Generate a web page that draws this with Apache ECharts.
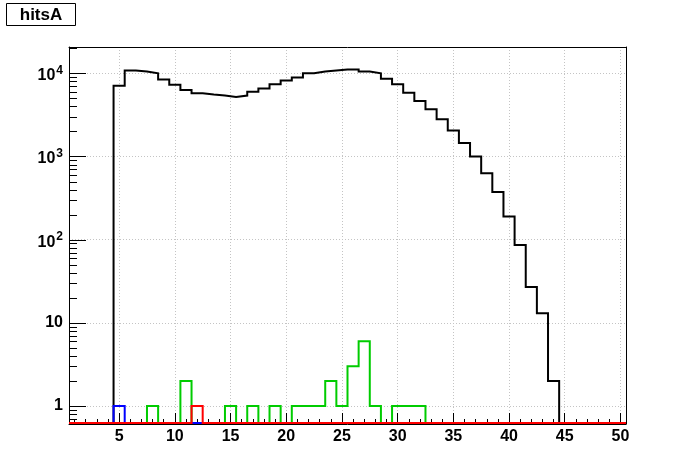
<!DOCTYPE html>
<html>
<head>
<meta charset="utf-8">
<script src="https://cdn.jsdelivr.net/npm/echarts@6/dist/echarts.min.js"></script>
<style>
html,body{margin:0;padding:0;background:#fff;}
#c{width:696px;height:472px;}
</style>
</head>
<body>
<div id="c"></div>
<script>
// ---- data (bin centers 1..50, bin width 1) ----
var binCenters = [1,2,3,4,5,6,7,8,9,10,11,12,13,14,15,16,17,18,19,20,21,22,23,24,25,26,27,28,29,30,31,32,33,34,35,36,37,38,39,40,41,42,43,44,45,46,47,48,49,50];
var blackCounts = [0,0,0,0,7100,10800,10500,10000,8400,7300,6300,5750,5550,5400,5200,5400,6000,6550,7400,8200,8900,10000,10500,10800,11100,11100,10500,10000,8600,7400,5850,4650,3700,2800,2050,1450,1000,630,375,190,86,27,13,2,0,0,0,0,0,0];
var greenCounts = [0,0,0,0,0,0,0,1,0,0,2,0,0,0,1,0,1,0,1,0,1,1,1,2,1,3,6,1,0,1,1,1,0,0,0,0,0,0,0,0,0,0,0,0,0,0,0,0,0,0];
var blueCounts  = [0,0,0,0,1,0,0,0,0,0,0,0,0,0,0,0,0,0,0,0,0,0,0,0,0,0,0,0,0,0,0,0,0,0,0,0,0,0,0,0,0,0,0,0,0,0,0,0,0,0];
var redCounts   = [0,0,0,0,0,0,0,0,0,0,0,1,0,0,0,0,0,0,0,0,0,0,0,0,0,0,0,0,0,0,0,0,0,0,0,0,0,0,0,0,0,0,0,0,0,0,0,0,0,0];
var xTickLabels = [5,10,15,20,25,30,35,40,45,50];
var yDecades = [0,1,2,3,4];
var titleText = 'hitsA';

// ---- axis ranges ----
var X_MIN = 0.5, X_MAX = 50.5, BIN_W = 1;
var Y_LOG_MIN = -0.2164, Y_LOG_MAX = 4.3164;
var ZERO_LOG = Y_LOG_MIN + 0.012; // empty bins drawn at the frame bottom

function toLog(v){ return v > 0 ? Math.log10(v) : ZERO_LOG; }
function histPoints(counts){
  var pts = [];
  for (var i = 0; i < counts.length; i++){
    var y = toLog(counts[i]);
    pts.push([binCenters[i] - BIN_W/2, y]);
    pts.push([binCenters[i] + BIN_W/2, y]);
  }
  return pts;
}
// log ticks: majors at 10^n, minors at k x 10^n (k = 2..9)
var yTickMarks = [];
for (var d = -1; d < 5; d++){
  for (var k = 1; k <= 9; k++){
    var lv = d + Math.log10(k);
    if (lv > Y_LOG_MIN && lv < Y_LOG_MAX) yTickMarks.push({v: lv, len: k === 1 ? 17 : 8});
  }
}

var FONT = '"Liberation Sans", Arial, Helvetica, sans-serif';
var chart = echarts.init(document.getElementById('c'), null, {renderer:'canvas'});
function hist(name, counts, color){
  return {
    name: name, type: 'line', data: histPoints(counts),
    xAxisIndex: 0, yAxisIndex: 0,
    symbol: 'none', showSymbol: false, animation: false, clip: false,
    lineStyle: {color: color, width: 2, join: 'miter', cap: 'butt'},
    emphasis: {disabled: true}
  };
}
var gridLine = {show: true, lineStyle: {color: '#c4c4c4', width: 1, type: [1, 2]}};
chart.setOption({
  animation: false,
  backgroundColor: '#ffffff',
  grid: {left: 69, top: 47, width: 557, height: 377, containLabel: false},
  xAxis: [{
    type: 'value', min: X_MIN, max: X_MAX, splitNumber: 10, minInterval: 5, maxInterval: 5,
    position: 'bottom',
    axisLine: {show: true, onZero: false, lineStyle: {color: '#000', width: 1}},
    axisTick: {show: true, inside: true, length: 11, lineStyle: {color: '#000', width: 1}},
    minorTick: {show: true, splitNumber: 5, length: 5, lineStyle: {color: '#000', width: 1}},
    axisLabel: {
      margin: 5, color: '#000', fontSize: 16, fontWeight: 'bold', fontFamily: FONT,
      showMinLabel: true, showMaxLabel: true,
      formatter: function(v){ return xTickLabels.indexOf(Math.round(v*1000)/1000) >= 0 ? String(v) : ''; }
    },
    splitLine: gridLine
  }, {
    type: 'value', min: X_MIN, max: X_MAX, position: 'top',
    axisLine: {show: true, onZero: false, lineStyle: {color: '#000', width: 1}},
    axisTick: {show: false}, axisLabel: {show: false}, splitLine: {show: false}
  }],
  yAxis: [{
    type: 'value', min: Y_LOG_MIN, max: Y_LOG_MAX, splitNumber: 5, minInterval: 1, maxInterval: 1,
    position: 'left',
    axisLine: {show: true, onZero: false, lineStyle: {color: '#000', width: 1}},
    axisTick: {show: false},
    axisLabel: {
      margin: 6, color: '#000', fontSize: 16, fontWeight: 'bold', fontFamily: FONT,
      showMinLabel: true, showMaxLabel: true,
      formatter: function(v){
        var n = Math.round(v);
        if (Math.abs(v - n) > 1e-6 || yDecades.indexOf(n) < 0) return '';
        if (n === 0) return '1';
        if (n === 1) return '10';
        return '{m|10}{s|' + n + '}';
      },
      rich: {
        m: {fontSize: 16, fontWeight: 'bold', fontFamily: FONT, color: '#000', padding: [5, 0, 0, 0]},
        s: {fontSize: 12, fontWeight: 'bold', fontFamily: FONT, color: '#000', padding: [0, 0, 5, 1]}
      }
    },
    splitLine: gridLine
  }, {
    type: 'value', min: Y_LOG_MIN, max: Y_LOG_MAX, position: 'right',
    axisLine: {show: true, onZero: false, lineStyle: {color: '#000', width: 1}},
    axisTick: {show: false}, axisLabel: {show: false}, splitLine: {show: false}
  }],
  series: [
    hist('all', blackCounts, '#000000'),
    hist('green', greenCounts, '#00cc00'),
    hist('blue', blueCounts, '#0000ff'),
    hist('red', redCounts, '#ff0000')
  ],
  graphic: [{
    type: 'group', id: 'titleBox', left: 6, top: 3,
    children: [
      {type: 'rect', shape: {x: 0, y: 0, width: 69, height: 22}, style: {fill: '#fff', stroke: '#000', lineWidth: 1}},
      {type: 'text', x: 34.5, y: 11.5, style: {text: titleText, fill: '#000', font: 'bold 17px ' + FONT, align: 'center', verticalAlign: 'middle'}}
    ]
  }]
});

// logarithmic y tick marks, placed through the chart's own axis conversion
var tickEls = yTickMarks.map(function(t, i){
  var p = chart.convertToPixel({xAxisIndex: 0, yAxisIndex: 0}, [X_MIN, t.v]);
  var y = Math.round(p[1]) + 0.5;
  var x = Math.round(p[0]);
  return {type: 'line', id: 'ytick' + i, z: 100, silent: true,
          shape: {x1: x, y1: y, x2: x + t.len, y2: y},
          style: {stroke: '#000', lineWidth: 1}};
});
chart.setOption({graphic: tickEls});
</script>
</body>
</html>
